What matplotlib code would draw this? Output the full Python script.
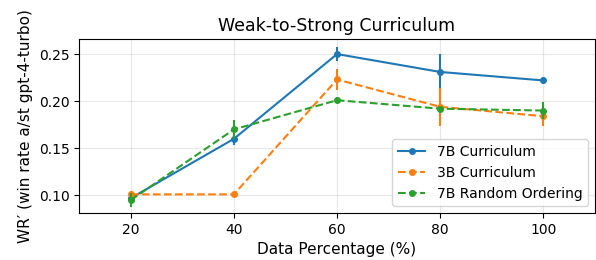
import matplotlib.pyplot as plt

pct = [20, 40, 60, 80, 100]

wr_7b = [0.097, 0.160, 0.250, 0.231, 0.222]
err_7b = [0.003, 0.007, 0.007, 0.019, 0.004]

wr_3b = [0.101, 0.101, 0.223, 0.194, 0.184]
err_3b = [0.004, 0.002, 0.011, 0.020, 0.010]

wr_rand = [0.095, 0.170, 0.201, 0.192, 0.190]
err_rand = [0.007, 0.010, 0.003, 0.003, 0.009]

fig, ax = plt.subplots(figsize=(5.96, 2.6), dpi=100)

series = [
    (wr_7b, err_7b, '-', 'tab:blue', '7B Curriculum'),
    (wr_3b, err_3b, '--', 'tab:orange', '3B Curriculum'),
    (wr_rand, err_rand, '--', 'tab:green', '7B Random Ordering'),
]
for vals, errs, ls, col, lab in series:
    ax.plot(pct, vals, ls, marker='o', color=col, markersize=4, label=lab)
    ax.errorbar(pct, vals, yerr=errs, fmt='none', ecolor=col)

ax.set_xlim(10, 110)
ax.set_ylim(0.081, 0.266)
ax.set_xticks(pct)
ax.set_yticks([0.10, 0.15, 0.20, 0.25])
ax.grid(True, alpha=0.3)
ax.set_title('Weak-to-Strong Curriculum', fontsize=12.5)
ax.set_xlabel('Data Percentage (%)', fontsize=11)
ax.set_ylabel('WR′ (win rate a/st gpt-4-turbo)', fontsize=11)
ax.tick_params(labelsize=10)
ax.legend(loc='lower right', fontsize=10)

fig.subplots_adjust(left=0.133, right=0.998, top=0.85, bottom=0.18)
plt.savefig('out.png', dpi=100)
